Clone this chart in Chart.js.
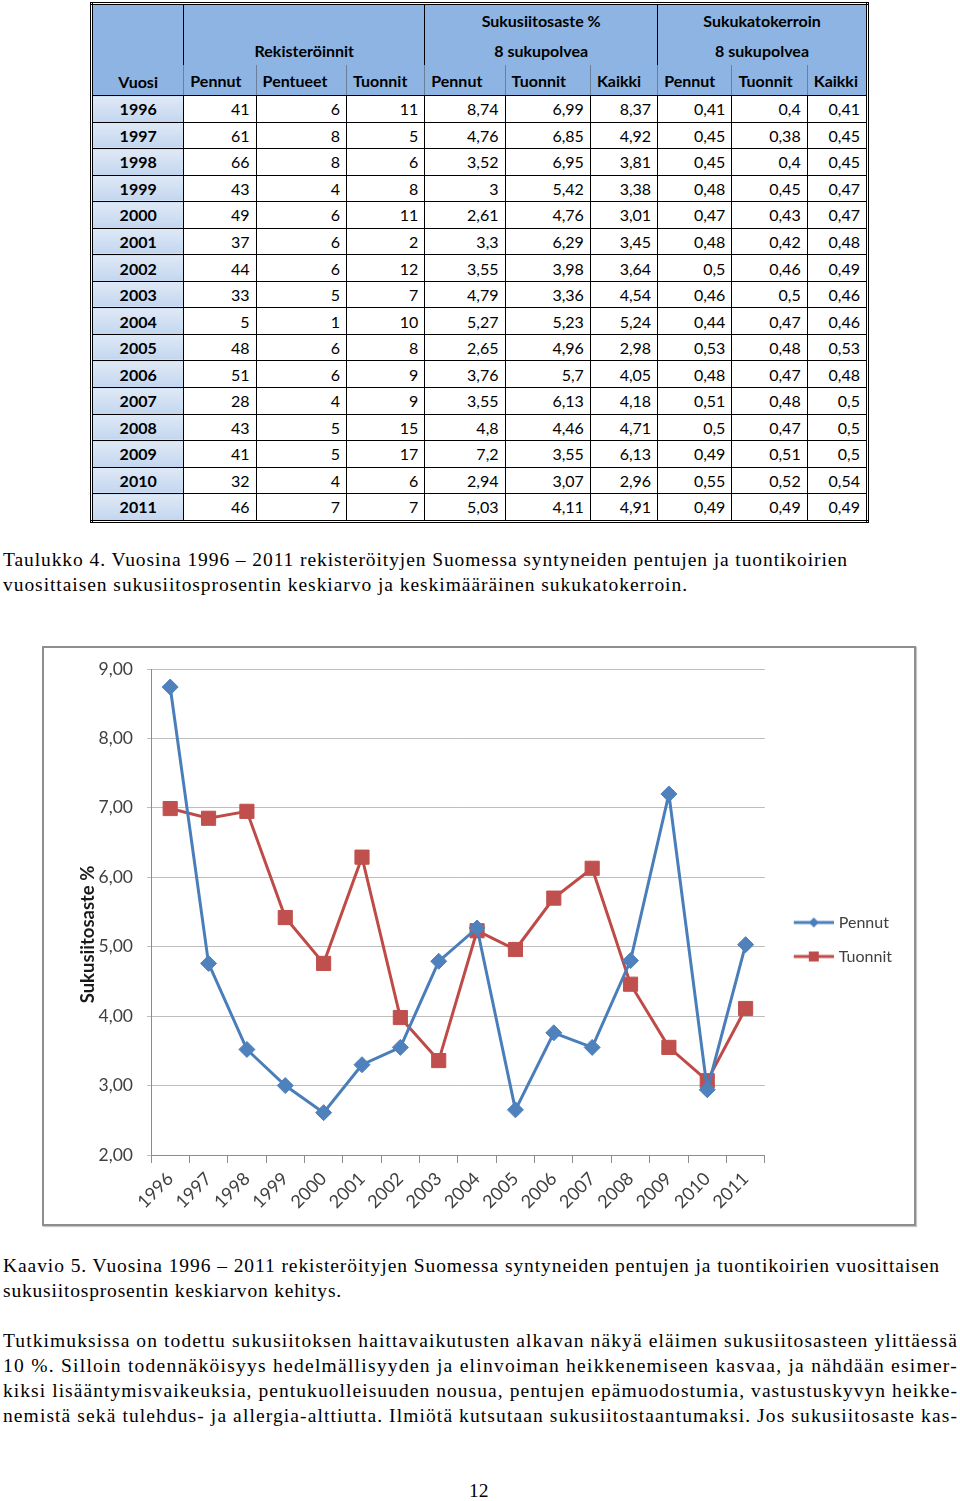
<!DOCTYPE html>
<html>
<head>
<meta charset="utf-8">
<script src="https://cdn.jsdelivr.net/npm/chart.js@4.4.1/dist/chart.umd.min.js"></script>
<style>
  html, body { margin: 0; padding: 0; background: #fff; }
  body { width: 960px; height: 1501px; position: relative; overflow: hidden; }
  #tbl { position: absolute; left: 90px; top: 2px; border-collapse: collapse; border: 3px double #000;
         font-family: Lato, "Open Sans", sans-serif; font-size: 16px; color: #000; table-layout: fixed; width: 779px; }
  #tbl td, #tbl th { padding: 0 6px; white-space: nowrap; overflow: hidden; }
  #tbl thead th { background: #8db4e2; font-weight: bold; text-align: center; height: 30px; border: none; }
  #tbl thead tr.sub th { border-left: 1px solid #6c7f99; text-align: left; padding-left: 6px; }
  #tbl thead th.grp { border-left: 1px solid #000; }
  #tbl thead tr.sub th { border-bottom: 1px solid #000; }
  #tbl thead th.vuosi { vertical-align: bottom; padding-bottom: 4px; border-bottom: 1px solid #000; }
  #tbl tbody td { border: 1px solid #000; text-align: right; height: 25.55px; }
  #tbl tbody td.yr { text-align: center; font-weight: bold; background: linear-gradient(#dfe9f6, #c3d6ef); }
  .serif { position: absolute; left: 3px; font-family: "Liberation Serif", "Times New Roman", serif; font-size: 19.5px; color: #000; white-space: nowrap; line-height: 25px; }
  #frame { position: absolute; left: 42px; top: 646px; width: 870px; height: 576px; border: 2px solid #8e8e8e; box-shadow: 1px 1px 1px #c8c8c8; }
  #chart { position: absolute; left: 44px; top: 648px; }
</style>
</head>
<body>
<table id="tbl">
  <colgroup>
    <col style="width:92px"><col style="width:72px"><col style="width:90px"><col style="width:78px">
    <col style="width:80px"><col style="width:85px"><col style="width:67px">
    <col style="width:74px"><col style="width:75px"><col style="width:60px">
  </colgroup>
  <thead>
    <tr><th class="vuosi" rowspan="3">Vuosi</th><th class="grp" colspan="3"></th><th class="grp" colspan="3">Sukusiitosaste %</th><th class="grp" colspan="3">Sukukatokerroin</th></tr>
    <tr><th class="grp" colspan="3">Rekisteröinnit</th><th class="grp" colspan="3">8 sukupolvea</th><th class="grp" colspan="3">8 sukupolvea</th></tr>
    <tr class="sub" id="subhead"></tr>
  </thead>
  <tbody id="tbody"></tbody>
</table>

<div class="serif fit" data-w="845" style="top:547px">Taulukko 4. Vuosina 1996 – 2011 rekisteröityjen Suomessa syntyneiden pentujen ja tuontikoirien</div>
<div class="serif fit" data-w="685" style="top:572px">vuosittaisen sukusiitosprosentin keskiarvo ja keskimääräinen sukukatokerroin.</div>

<div id="frame"></div>
<canvas id="chart" width="870" height="576"></canvas>

<div class="serif fit" data-w="937" style="top:1253px">Kaavio 5. Vuosina 1996 – 2011 rekisteröityjen Suomessa syntyneiden pentujen ja tuontikoirien vuosittaisen</div>
<div class="serif fit" data-w="339" style="top:1278px">sukusiitosprosentin keskiarvon kehitys.</div>

<div class="serif fit" data-w="955" style="top:1328px">Tutkimuksissa on todettu sukusiitoksen haittavaikutusten alkavan näkyä eläimen sukusiitosasteen ylittäessä</div>
<div class="serif fit" data-w="955" style="top:1353px">10 %. Silloin todennäköisyys hedelmällisyyden ja elinvoiman heikkenemiseen kasvaa, ja nähdään esimer-</div>
<div class="serif fit" data-w="955" style="top:1378px">kiksi lisääntymisvaikeuksia, pentukuolleisuuden nousua, pentujen epämuodostumia, vastustuskyvyn heikke-</div>
<div class="serif fit" data-w="955" style="top:1403px">nemistä sekä tulehdus- ja allergia-alttiutta. Ilmiötä kutsutaan sukusiitostaantumaksi. Jos sukusiitosaste kas-</div>

<div class="serif" style="top:1478px; left:469px">12</div>

<script>
const years = ['1996','1997','1998','1999','2000','2001','2002','2003','2004','2005','2006','2007','2008','2009','2010','2011'];
const subHeaders = ['Pennut','Pentueet','Tuonnit','Pennut','Tuonnit','Kaikki','Pennut','Tuonnit','Kaikki'];

// Rekisteröinnit
const regPennut   = [41, 61, 66, 43, 49, 37, 44, 33, 5, 48, 51, 28, 43, 41, 32, 46];
const regPentueet = [6, 8, 8, 4, 6, 6, 6, 5, 1, 6, 6, 4, 5, 5, 4, 7];
const regTuonnit  = [11, 5, 6, 8, 11, 2, 12, 7, 10, 8, 9, 9, 15, 17, 6, 7];

// Sukusiitosaste % (8 sukupolvea)
const ssPennut  = [8.74, 4.76, 3.52, 3, 2.61, 3.3, 3.55, 4.79, 5.27, 2.65, 3.76, 3.55, 4.8, 7.2, 2.94, 5.03];
const ssTuonnit = [6.99, 6.85, 6.95, 5.42, 4.76, 6.29, 3.98, 3.36, 5.23, 4.96, 5.7, 6.13, 4.46, 3.55, 3.07, 4.11];
const ssKaikki  = [8.37, 4.92, 3.81, 3.38, 3.01, 3.45, 3.64, 4.54, 5.24, 2.98, 4.05, 4.18, 4.71, 6.13, 2.96, 4.91];

// Sukukatokerroin (8 sukupolvea)
const skPennut  = [0.41, 0.45, 0.45, 0.48, 0.47, 0.48, 0.5, 0.46, 0.44, 0.53, 0.48, 0.51, 0.5, 0.49, 0.55, 0.49];
const skTuonnit = [0.4, 0.38, 0.4, 0.45, 0.43, 0.42, 0.46, 0.5, 0.47, 0.48, 0.47, 0.48, 0.47, 0.51, 0.52, 0.49];
const skKaikki  = [0.41, 0.45, 0.45, 0.47, 0.47, 0.48, 0.49, 0.46, 0.46, 0.53, 0.48, 0.5, 0.5, 0.5, 0.54, 0.49];

const yMin = 2, yMax = 9, yStep = 1;

const fi = v => String(v).replace('.', ',');

// table
const sub = document.getElementById('subhead');
subHeaders.forEach((h, i) => {
  const th = document.createElement('th');
  th.textContent = h;
  if (i === 0 || i === 3 || i === 6) th.classList.add('grp');
  sub.appendChild(th);
});
const tbody = document.getElementById('tbody');
years.forEach((y, i) => {
  const tr = document.createElement('tr');
  const cells = [regPennut[i], regPentueet[i], regTuonnit[i], ssPennut[i], ssTuonnit[i], ssKaikki[i], skPennut[i], skTuonnit[i], skKaikki[i]];
  let html = '<td class="yr">' + y + '</td>';
  cells.forEach(v => { html += '<td>' + fi(v) + '</td>'; });
  tr.innerHTML = html;
  tbody.appendChild(tr);
});

// stretch text lines to their width in the picture
document.querySelectorAll('.fit').forEach(el => {
  const target = +el.dataset.w;
  const w = el.getBoundingClientRect().width;
  const n = el.textContent.length;
  el.style.letterSpacing = ((target - w) / n) + 'px';
});

// legend markers: line with marker in the middle
function legendIcon(color, square) {
  const c = document.createElement('canvas');
  c.width = 54; c.height = 16;
  const g = c.getContext('2d');
  g.strokeStyle = color; g.lineWidth = 3;
  g.beginPath(); g.moveTo(14, 8); g.lineTo(54, 8); g.stroke();
  g.fillStyle = color;
  if (square) {
    g.fillRect(29, 3, 10, 10);
  } else {
    g.beginPath(); g.moveTo(34, 3); g.lineTo(39, 8); g.lineTo(34, 13); g.lineTo(29, 8); g.closePath(); g.fill();
  }
  return c;
}

const blue = '#4a7ebb', red = '#be4b48';
const icons = [legendIcon(blue, false), legendIcon(red, true)];
const nb = '\u00a0';

new Chart(document.getElementById('chart').getContext('2d'), {
  type: 'line',
  data: {
    labels: years,
    datasets: [{
      label: 'Pennut',
      data: ssPennut,
      borderColor: blue,
      backgroundColor: blue,
      borderWidth: 3,
      pointStyle: 'rectRot',
      pointRadius: 8,
      pointBorderWidth: 1,
      pointBackgroundColor: '#4f81bd',
      pointBorderColor: '#4f81bd'
    }, {
      label: 'Tuonnit',
      data: ssTuonnit,
      borderColor: red,
      backgroundColor: red,
      borderWidth: 3,
      pointStyle: 'rect',
      pointRadius: 10,
      pointBorderWidth: 1,
      pointBackgroundColor: '#c0504d',
      pointBorderColor: '#c0504d'
    }]
  },
  options: {
    responsive: false,
    animation: false,
    layout: { padding: { left: 30, top: 21, right: 12, bottom: 14 } },
    plugins: {
      tooltip: { enabled: false },
      legend: {
        position: 'right',
        labels: {
          usePointStyle: true,
          pointStyleWidth: 48,
          padding: 18,
          color: '#404040',
          font: { family: 'Lato, "Open Sans", sans-serif', size: 16 },
          generateLabels: chart => chart.data.datasets.map((ds, i) => ({
            text: ds.label,
            pointStyle: icons[i],
            fillStyle: ds.borderColor,
            strokeStyle: ds.borderColor,
            lineWidth: 0,
            fontColor: '#404040',
            datasetIndex: i,
            hidden: false
          }))
        }
      }
    },
    scales: {
      x: {
        offset: true,
        grid: { display: true, offset: true, drawOnChartArea: false, tickLength: 8, color: '#8c8c8c' },
        border: { color: '#8c8c8c', width: 1 },
        ticks: {
          maxRotation: 45, minRotation: 45, padding: 5,
          color: '#404040',
          font: { family: 'Lato, "Open Sans", sans-serif', size: 18 }
        },
        afterFit: s => { s.height = 55; }
      },
      y: {
        min: yMin, max: yMax,
        grid: { color: '#bdbdbd', tickLength: 4 },
        border: { color: '#8c8c8c', width: 1 },
        ticks: {
          stepSize: yStep, padding: 14,
          color: '#404040',
          font: { family: 'Lato, "Open Sans", sans-serif', size: 17.5 },
          callback: v => v.toFixed(2).replace('.', ',')
        },
        title: {
          display: true,
          text: 'Sukusiitosaste %' + nb.repeat(10),
          color: '#1a1a1a',
          padding: { top: 3, bottom: 0 },
          font: { family: 'Lato, "Open Sans", sans-serif', size: 18.5, weight: 'bold' }
        },
        afterFit: s => { s.width = 77; s.paddingTop = 0; s.paddingBottom = 0; }
      }
    }
  }
});
</script>
</body>
</html>
